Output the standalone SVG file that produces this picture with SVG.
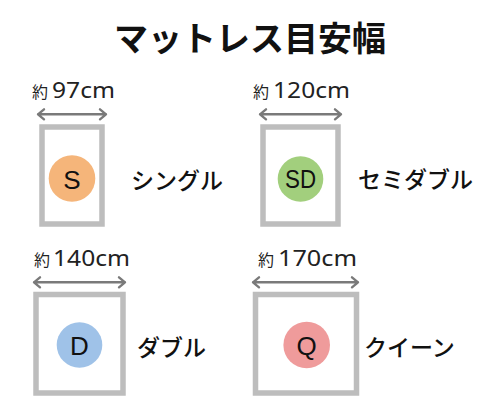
<svg xmlns="http://www.w3.org/2000/svg" width="500" height="414" viewBox="0 0 500 414">
<defs>
<style>
.bed{fill:#fff;stroke:#bdbdbd;stroke-width:5.5}
.dim{fill:none;stroke:#7a7a7a;stroke-width:2.4;stroke-linecap:round;stroke-linejoin:round}
.title{font-family:"Noto Sans CJK JP",sans-serif;font-weight:700;font-size:34px;fill:#111;text-anchor:middle}
.name{font-family:"Noto Sans CJK JP",sans-serif;font-weight:500;font-size:23px;fill:#111}
.yaku{font-family:"Noto Sans CJK JP",sans-serif;font-size:16px;fill:#222}
.num{font-family:"Noto Sans","Liberation Sans",sans-serif;font-size:21px;fill:#222}
.abbr{font-family:"Liberation Sans",Arial,sans-serif;font-size:26px;fill:#111;text-anchor:middle}
</style>
</defs>
<rect width="500" height="414" fill="#fff"/>
<text class="title" x="250" y="50.5">マットレス目安幅</text>

<g id="connectors">
<path class="dim" d="M38 114.3H106M44 109.3L38 114.3L44 119.3M100 109.3L106 114.3L100 119.3"/>
<path class="dim" d="M260 114.3H341M266 109.3L260 114.3L266 119.3M335 109.3L341 114.3L335 119.3"/>
<path class="dim" d="M34 282.3H125M40 277.3L34 282.3L40 287.3M119 277.3L125 282.3L119 287.3"/>
<path class="dim" d="M253 282.3H358M259 277.3L253 282.3L259 287.3M352 277.3L358 282.3L352 287.3"/>
</g>

<g id="single">
<text x="32" y="98"><tspan class="yaku">約</tspan><tspan class="num" x="52" textLength="63" lengthAdjust="spacingAndGlyphs">97cm</tspan></text>
<rect class="bed" x="42" y="127" width="60" height="97"/>
<circle cx="72" cy="178.5" r="23.3" fill="#f5b57a"/>
<text class="abbr" x="72" y="188.5">S</text>
<text class="name" x="131" y="188.7">シングル</text>
</g>

<g id="semidouble">
<text x="253" y="98"><tspan class="yaku">約</tspan><tspan class="num" x="273" textLength="77" lengthAdjust="spacingAndGlyphs">120cm</tspan></text>
<rect class="bed" x="263" y="127" width="75" height="97"/>
<circle cx="300.5" cy="179" r="22.8" fill="#a2cf7d"/>
<text class="abbr" x="300.5" y="188.3" textLength="31" lengthAdjust="spacingAndGlyphs">SD</text>
<text class="name" x="358" y="188">セミダブル</text>
</g>

<g id="double">
<text x="34" y="266"><tspan class="yaku">約</tspan><tspan class="num" x="53" textLength="77" lengthAdjust="spacingAndGlyphs">140cm</tspan></text>
<rect class="bed" x="36" y="294.5" width="87" height="98.5"/>
<circle cx="79.5" cy="345" r="22.8" fill="#9fc2e8"/>
<text class="abbr" x="79.5" y="355">D</text>
<text class="name" x="137" y="355.5">ダブル</text>
</g>

<g id="queen">
<text x="258" y="266"><tspan class="yaku">約</tspan><tspan class="num" x="278" textLength="79" lengthAdjust="spacingAndGlyphs">170cm</tspan></text>
<rect class="bed" x="255.5" y="294.5" width="101" height="98.5"/>
<circle cx="306.7" cy="345" r="23.3" fill="#ef9b9b"/>
<text class="abbr" x="306.7" y="355">Q</text>
<text class="name" x="364" y="355.5">クイーン</text>
</g>
</svg>
